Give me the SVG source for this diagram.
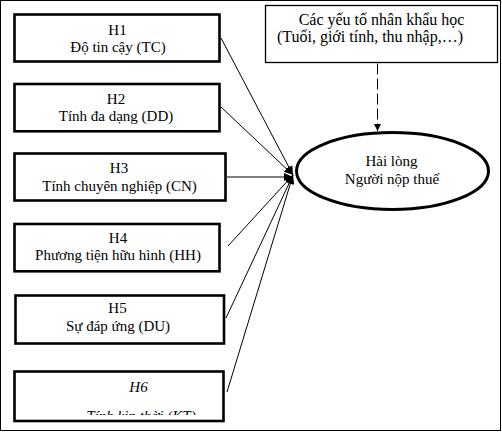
<svg xmlns="http://www.w3.org/2000/svg" width="502" height="432" viewBox="0 0 502 432">
<style>
  .box { fill: #ffffff; stroke: #000000; stroke-width: 2.6; }
  .thin { fill: #ffffff; stroke: #000000; stroke-width: 1.3; }
  .ell { fill: #ffffff; stroke: #000000; stroke-width: 3; }
  .t { font-family: "Liberation Serif", "Times New Roman", serif; font-size: 15px; fill: #000000; text-anchor: middle; }
  .it { font-style: italic; }
  .c { fill: none; stroke: #000000; stroke-width: 1; }
  .dash { fill: none; stroke: #000000; stroke-width: 1; stroke-dasharray: 11 4; }
</style>
<defs>
  <marker id="ah" markerUnits="userSpaceOnUse" markerWidth="10" markerHeight="8" refX="9" refY="4" orient="auto">
    <path d="M0,0 L9,4 L0,8 Z" fill="#000000"/>
  </marker>
  <marker id="ahs" markerUnits="userSpaceOnUse" markerWidth="8" markerHeight="8" refX="7" refY="3.5" orient="auto">
    <path d="M0,0 L7,3.5 L0,7 Z" fill="#000000"/>
  </marker>
  <clipPath id="h6clip">
    <rect x="14" y="372" width="210" height="43"/>
  </clipPath>
</defs>
<rect x="0.5" y="0.5" width="500" height="430" fill="#ffffff" stroke="#000000" stroke-width="1"/>

<g id="connectors">
  <line class="c" x1="221" y1="38" x2="293" y2="175" marker-end="url(#ah)"/>
  <line class="c" x1="221" y1="107" x2="293" y2="175" marker-end="url(#ah)"/>
  <line class="c" x1="227" y1="177" x2="293" y2="177" marker-end="url(#ah)"/>
  <line class="c" x1="228" y1="246" x2="293" y2="175" marker-end="url(#ah)"/>
  <line class="c" x1="226" y1="318" x2="293" y2="175" marker-end="url(#ah)"/>
  <line class="c" x1="227" y1="392" x2="293" y2="175" marker-end="url(#ah)"/>
  <line class="dash" x1="377.5" y1="63.5" x2="377.5" y2="131" marker-end="url(#ahs)"/>
</g>

<g id="H1">
  <rect class="box" x="14.5" y="14.5" width="205" height="47"/>
  <text class="t" x="117.5" y="35">H1</text>
  <text class="t" x="118" y="52">Độ tin cậy (TC)</text>
</g>
<g id="H2">
  <rect class="box" x="14.5" y="84" width="205" height="47.3"/>
  <text class="t" x="116" y="103.5">H2</text>
  <text class="t" x="116" y="120.5">Tính đa dạng (DD)</text>
</g>
<g id="H3">
  <rect class="box" x="14.5" y="153.5" width="211" height="47"/>
  <text class="t" x="119" y="172.5">H3</text>
  <text class="t" x="119.5" y="191">Tính chuyên nghiệp (CN)</text>
</g>
<g id="H4">
  <rect class="box" x="14.5" y="224" width="205" height="47.3"/>
  <text class="t" x="118" y="242.5">H4</text>
  <text class="t" x="118" y="260">Phương tiện hữu hình (HH)</text>
</g>
<g id="H5">
  <rect class="box" x="15.5" y="295.5" width="208.5" height="48"/>
  <text class="t" x="117.5" y="312.5">H5</text>
  <text class="t" x="118" y="330.5">Sự đáp ứng (DU)</text>
</g>
<g id="H6">
  <rect class="box" x="14.5" y="371.5" width="209" height="49.5"/>
  <text class="t it" x="138.5" y="392">H6</text>
  <text class="t it" x="141" y="421" clip-path="url(#h6clip)">Tính kịp thời (KT)</text>
</g>

<g id="demographics">
  <rect class="thin" x="265.5" y="5.5" width="232" height="57"/>
  <text class="t" x="381.5" y="25" style="font-size:16px">Các yếu tố nhân khẩu học</text>
  <text class="t" x="370" y="42" style="font-size:16px">(Tuổi, giới tính, thu nhập,…)</text>
</g>

<g id="satisfaction">
  <ellipse class="ell" cx="392.5" cy="171" rx="96" ry="38.5"/>
  <text class="t" x="391.5" y="165.5">Hài lòng</text>
  <text class="t" x="392" y="184">Người nộp thuế</text>
</g>
</svg>
